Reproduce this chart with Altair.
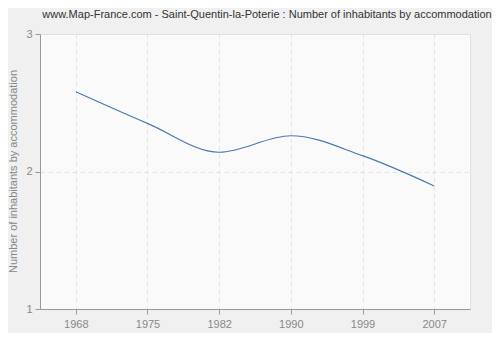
import altair as alt
import pandas as pd

years = ["1968", "1975", "1982", "1990", "1999", "2007"]
values = [2.58, 2.35, 2.14, 2.26, 2.115, 1.895]
y_ticks = [1, 2, 3]

title_text = "www.Map-France.com - Saint-Quentin-la-Poterie : Number of inhabitants by accommodation"
y_title = "Number of inhabitants by accommodation"

df = pd.DataFrame({"year": years, "value": values})

FONT = "Liberation Sans"

chart = alt.Chart(df).mark_line(
    interpolate="monotone", color="#4a78b0", strokeWidth=1.2
).encode(
    x=alt.X("year:O", sort=years, title=None,
            scale=alt.Scale(type="point", padding=0.5),
            axis=alt.Axis(labelAngle=0, grid=True, gridDash=[4, 4], gridColor="#e2e2e2",
                          domainColor="#999999", tickColor="#999999", tickSize=5,
                          labelColor="#888888", labelFont=FONT, labelFontSize=11,
                          labelPadding=4)),
    y=alt.Y("value:Q", title=y_title,
            scale=alt.Scale(domain=[1, 3], nice=False, zero=False),
            axis=alt.Axis(values=y_ticks, labelExpr="toString(round(datum.value))",
                          labelOverlap=False, grid=True,
                          gridDash=[4, 4], gridColor="#e2e2e2", domainColor="#999999",
                          tickColor="#999999", tickSize=5, labelColor="#888888",
                          labelFont=FONT, labelFontSize=11, labelPadding=3,
                          titleColor="#888888", titleFont=FONT, titleFontSize=11,
                          titleFontWeight="normal", titleAngle=-90, titleX=-27,
                          titleY=137, titleAlign="center", titleBaseline="middle")),
).properties(
    width=430,
    height=275,
    title=alt.TitleParams(title_text, font=FONT, fontSize=11, fontWeight="normal",
                          color="#333333", anchor="middle", dx=12, offset=8),
    autosize=alt.AutoSizeParams(type="none"),
    padding={"left": 32, "top": 26, "right": 22, "bottom": 24},
    background="#f0f0f0",
).configure_view(
    fill="#fafafa", stroke="#e0e0e0"
)

chart.save("out.html", embed_options={"renderer": "svg", "actions": False})
